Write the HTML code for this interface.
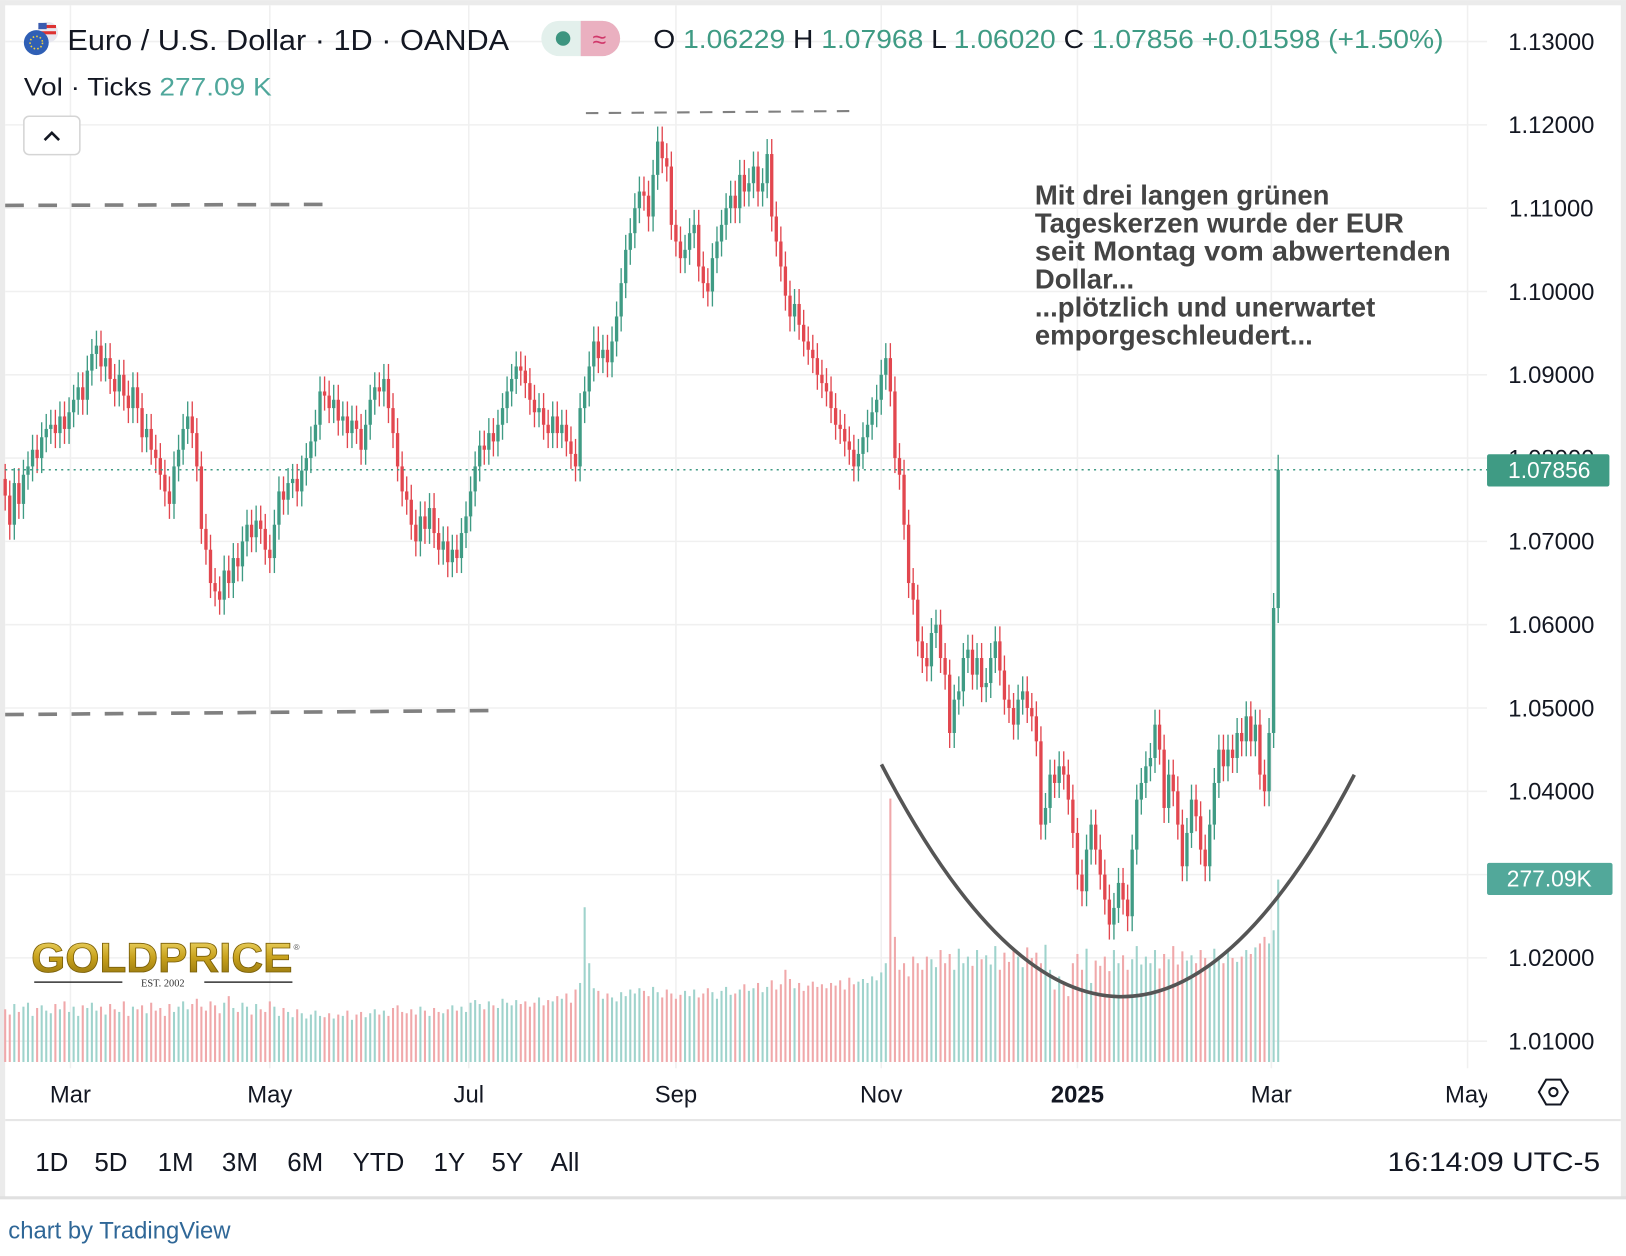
<!DOCTYPE html>
<html><head><meta charset="utf-8"><style>
html,body{margin:0;padding:0;background:#fff;}
svg{display:block;font-family:"Liberation Sans",sans-serif;}
</style></head><body>
<svg id="chart" width="1626" height="1256" viewBox="0 0 1568 1211" xmlns="http://www.w3.org/2000/svg">
<defs>
<linearGradient id="gold" x1="0" y1="0" x2="0" y2="1"><stop offset="0" stop-color="#f7e27a"/><stop offset="0.5" stop-color="#c9a21c"/><stop offset="1" stop-color="#8a6d0c"/></linearGradient>
</defs>
<rect x="0" y="0" width="1568" height="1211" fill="#fff"/>
<rect x="0" y="0" width="1568" height="5" fill="#ebebeb"/>
<rect x="0" y="0" width="5" height="1156" fill="#ebebeb"/>
<rect x="1563" y="0" width="5" height="1156" fill="#ebebeb"/>
<line x1="0" y1="1155" x2="1568" y2="1155" stroke="#e0e0e0" stroke-width="3"/>
<line x1="5" y1="1080" x2="1563" y2="1080" stroke="#e6e6e6" stroke-width="2"/>
<g id="grid"></g>
<g id="vol"></g>
<g id="candles"></g>
<g id="yaxis"></g>
<g id="xaxis"></g>

<line x1="5" y1="198" x2="320" y2="197" stroke="#808080" stroke-width="3.5" stroke-dasharray="18,14"/>
<line x1="5" y1="689" x2="480" y2="685" stroke="#808080" stroke-width="3.5" stroke-dasharray="18,14"/>
<line x1="565" y1="109" x2="820" y2="107" stroke="#808080" stroke-width="2" stroke-dasharray="12,10"/>
<path d="M850,737 Q1080,1180 1306,747" fill="none" stroke="#555" stroke-width="3.5"/>

<g font-weight="bold" font-size="26.5" fill="#444">
<text x="998" y="197">Mit drei langen grünen</text>
<text x="998" y="224">Tageskerzen wurde der EUR</text>
<text x="998" y="251" textLength="401" lengthAdjust="spacingAndGlyphs">seit Montag vom abwertenden</text>
<text x="998" y="278">Dollar...</text>
<text x="998" y="305">...plötzlich und unerwartet</text>
<text x="998" y="332">emporgeschleudert...</text>
</g>

<g>
<g>
<circle cx="46" cy="31" r="10" fill="#e8e8f0"/><rect x="38" y="24" width="16" height="3" fill="#d33"/><rect x="38" y="30" width="16" height="3" fill="#d33"/><rect x="37" y="22" width="8" height="6" fill="#3a5bb0"/>
<circle cx="35" cy="41" r="12" fill="#2f5fb5"/><circle cx="35" cy="41" r="6" fill="none" stroke="#f3d23a" stroke-width="1.5" stroke-dasharray="1.5,2"/>
</g>
<text x="65" y="48" font-size="28" fill="#131722" textLength="426" lengthAdjust="spacingAndGlyphs">Euro / U.S. Dollar · 1D · OANDA</text>
<g>
<rect x="522" y="20" width="76" height="34" rx="17" fill="#e3f0ec"/>
<path d="M560,20 h21 a17,17 0 0 1 0,34 h-21 z" fill="#eab0c0"/>
<circle cx="543" cy="37" r="7" fill="#3d9580"/>
<text x="578" y="46" font-size="24" fill="#d0386a" text-anchor="middle">≈</text>
</g>
<text x="630" y="46" font-size="25" fill="#131722" textLength="762" lengthAdjust="spacingAndGlyphs">O <tspan fill="#3f9b84">1.06229</tspan>  H <tspan fill="#3f9b84">1.07968</tspan>  L <tspan fill="#3f9b84">1.06020</tspan>  C <tspan fill="#3f9b84">1.07856</tspan>  <tspan fill="#3f9b84">+0.01598 (+1.50%)</tspan></text>
<text x="23" y="92" font-size="24" fill="#131722" textLength="239" lengthAdjust="spacingAndGlyphs">Vol · Ticks   <tspan fill="#4fa79b">277.09 K</tspan></text>
<g>
<rect x="23" y="112" width="54" height="37" rx="5" fill="#fff" stroke="#d5d5d5" stroke-width="1.5"/>
<path d="M43,135 l7,-7 l7,7" fill="none" stroke="#131722" stroke-width="2.5"/>
</g>
</g>

<g>
<text x="30" y="937" font-size="40" font-weight="bold" fill="url(#gold)" stroke="#7a5f08" stroke-width="0.8" textLength="252" lengthAdjust="spacingAndGlyphs">GOLDPRICE</text>
<text x="283" y="916" font-size="8" fill="#555">®</text>
<line x1="33" y1="947" x2="118" y2="947" stroke="#333" stroke-width="1.5"/>
<text x="157" y="951" font-size="10" fill="#333" text-anchor="middle" font-family="Liberation Serif,serif">EST. 2002</text>
<line x1="197" y1="947" x2="282" y2="947" stroke="#333" stroke-width="1.5"/>
</g>

<g>
<rect x="1434" y="438" width="118" height="31" rx="2" fill="#3f9b84"/>
<text x="1494" y="461" font-size="22" fill="#fff" text-anchor="middle">1.07856</text>
</g>
<g>
<rect x="1434" y="832" width="121" height="31" rx="2" fill="#52a89a"/>
<text x="1494" y="855" font-size="22" fill="#fff" text-anchor="middle">277.09K</text>
</g>

<g>
<path d="M1491,1041 h14 l7,12 l-7,12 h-14 l-7,-12 z" fill="none" stroke="#131722" stroke-width="2"/>
<circle cx="1498" cy="1053" r="4" fill="none" stroke="#131722" stroke-width="2"/>
</g>

<g font-size="25" fill="#131722">
<text x="34" y="1129">1D</text>
<text x="91" y="1129">5D</text>
<text x="152" y="1129">1M</text>
<text x="214" y="1129">3M</text>
<text x="277" y="1129">6M</text>
<text x="340" y="1129">YTD</text>
<text x="418" y="1129">1Y</text>
<text x="474" y="1129">5Y</text>
<text x="531" y="1129">All</text>
</g>
<text x="1543" y="1129" font-size="26" fill="#131722" text-anchor="end" textLength="205" lengthAdjust="spacingAndGlyphs">16:14:09 UTC-5</text>
<text x="8" y="1194" font-size="23" fill="#2f6797">chart by TradingView</text>
</svg>
<script>
const firstOpen = 1.0775;
const closes = [
1.0755,1.0720,1.0770,1.0745,1.0780,1.0790,1.0810,1.0800,1.0825,1.0835,
1.0840,1.0830,1.0850,1.0835,1.0855,1.0870,1.0885,1.0870,1.0905,1.0925,
1.0935,1.0910,1.0920,1.0895,1.0880,1.0900,1.0875,1.0860,1.0885,1.0860,
1.0825,1.0835,1.0810,1.0800,1.0780,1.0760,1.0745,1.0790,1.0810,1.0835,
1.0850,1.0830,1.0790,1.0715,1.0690,1.0650,1.0640,1.0630,1.0665,1.0650,
1.0680,1.0670,1.0700,1.0720,1.0705,1.0725,1.0715,1.0690,1.0680,1.0720,
1.0760,1.0750,1.0770,1.0775,1.0760,1.0785,1.0800,1.0820,1.0840,1.0880,
1.0875,1.0860,1.0870,1.0845,1.0850,1.0830,1.0845,1.0835,1.0810,1.0840,
1.0870,1.0885,1.0880,1.0895,1.0860,1.0830,1.0790,1.0760,1.0750,1.0720,
1.0700,1.0730,1.0715,1.0740,1.0710,1.0690,1.0700,1.0675,1.0690,1.0680,
1.0710,1.0730,1.0760,1.0790,1.0815,1.0810,1.0830,1.0820,1.0840,1.0860,
1.0880,1.0895,1.0910,1.0905,1.0890,1.0870,1.0855,1.0860,1.0840,1.0830,
1.0850,1.0830,1.0840,1.0820,1.0805,1.0790,1.0860,1.0880,1.0910,1.0940,
1.0920,1.0930,1.0915,1.0940,1.0970,1.1010,1.1050,1.1070,1.1100,1.1120,
1.1115,1.1090,1.1140,1.1180,1.1160,1.1150,1.1080,1.1060,1.1040,1.1050,
1.1070,1.1080,1.1030,1.1010,1.1000,1.1040,1.1060,1.1080,1.1100,1.1115,
1.1100,1.1140,1.1120,1.1130,1.1150,1.1120,1.1130,1.1165,1.1090,1.1060,
1.1030,1.0995,1.0970,1.0985,1.0960,1.0940,1.0930,1.0920,1.0900,1.0890,
1.0880,1.0860,1.0840,1.0835,1.0820,1.0810,1.0790,1.0805,1.0825,1.0840,
1.0855,1.0870,1.0900,1.0920,1.0880,1.0800,1.0780,1.0720,1.0650,1.0630,
1.0580,1.0560,1.0550,1.0590,1.0600,1.0560,1.0540,1.0470,1.0510,1.0520,
1.0560,1.0570,1.0540,1.0560,1.0525,1.0530,1.0560,1.0580,1.0545,1.0510,
1.0500,1.0480,1.0510,1.0520,1.0500,1.0490,1.0460,1.0360,1.0380,1.0420,
1.0410,1.0430,1.0420,1.0390,1.0350,1.0300,1.0280,1.0330,1.0360,1.0330,
1.0300,1.0270,1.0240,1.0260,1.0290,1.0270,1.0250,1.0330,1.0390,1.0410,
1.0430,1.0440,1.0480,1.0450,1.0380,1.0420,1.0400,1.0360,1.0310,1.0350,
1.0390,1.0370,1.0330,1.0310,1.0360,1.0410,1.0450,1.0430,1.0450,1.0440,
1.0470,1.0460,1.0490,1.0460,1.0480,1.0420,1.0400,1.0470,1.0620,1.0786];
const volumes = [
80,72,88,76,84,90,70,82,86,78, 74,88,80,92,76,84,70,86,82,90,
78,84,72,88,80,76,92,70,84,80, 86,74,90,78,82,70,88,76,84,92,
80,88,96,84,78,92,86,74,90,100, 82,76,90,84,72,88,80,76,92,84,
70,82,76,68,80,74,66,72,78,70, 68,74,66,72,70,78,64,72,76,68,
74,80,72,78,70,82,86,76,74,80, 72,84,78,70,82,76,74,80,86,78,
84,76,90,94,88,80,92,86,82,96, 90,86,94,88,92,84,90,98,86,94,
92,100,96,104,90,110,120,235,150,112, 108,96,104,98,92,106,100,110,104,112,
108,100,114,106,98,110,104,96,102,108, 100,110,98,104,112,106,96,108,114,102,
104,110,118,108,112,120,106,114,124,110, 118,140,126,112,120,108,116,122,114,118,
112,120,116,124,110,128,118,122,126,120, 130,124,136,150,400,190,140,150,130,160,
150,140,160,156,144,170,150,164,140,172, 150,160,146,170,156,162,148,176,140,166,
152,170,160,144,174,158,166,150,178,140, 110,130,120,100,150,164,140,172,120,154,
146,160,138,170,150,162,140,156,176,148, 160,150,170,142,164,156,176,148,168,154,
162,150,170,158,146,172,160,150,168,158, 152,160,170,164,174,180,190,180,200,277];
const priceTicks = [1.13,1.12,1.11,1.10,1.09,1.08,1.07,1.06,1.05,1.04,1.03,1.02,1.01];
const monthLabels = ["Mar","May","Jul","Sep","Nov","2025","Mar","May"];
const monthBarIdx = [14.3,58,101.6,147,192,235,277.5,320.5];

const NS="http://www.w3.org/2000/svg";
const X0=5, STEP=4.4;
function xAt(i){return X0+i*STEP;}
function yP(p){return 40+(1.13-p)*8033;}
function yV(v){return 1024-v*0.635;}
function mk(tag,attrs,parent){const e=document.createElementNS(NS,tag);for(const k in attrs)e.setAttribute(k,attrs[k]);parent.appendChild(e);return e;}
const G=document.getElementById('grid'),C=document.getElementById('candles'),V=document.getElementById('vol'),YA=document.getElementById('yaxis'),XA=document.getElementById('xaxis');

priceTicks.forEach(p=>{
  const l=mk('line',{x1:5,x2:1434,y1:yP(p),y2:yP(p),stroke:'#f0f0f0','stroke-width':1.5},G);
  
  
  const t=mk('text',{x:1496,y:yP(p)+8,'font-size':23,fill:'#131722','text-anchor':'middle'},YA);
  t.textContent=p.toFixed(5);
  
  
});
monthLabels.forEach((m,k)=>{
  const x=xAt(monthBarIdx[k]);
  if(x<1430){
    const l=mk('line',{x1:x,x2:x,y1:5,y2:1030,stroke:'#f0f0f0','stroke-width':1.5},G);
    
    
  }
  const t=mk('text',{x:x,y:1063,'font-size':23,fill:'#131722','text-anchor':'middle','font-weight':m==='2025'?'bold':'normal'},XA);
  t.textContent=m;
  
  
});
mk('rect',{x:1434,y:1035,width:50,height:40,fill:'#fff'},XA);

const opens=closes.map((c,i)=>i===0?firstOpen:closes[i-1]);
closes.forEach((c,i)=>{
  const o=opens[i], up=c>=o, x=xAt(i);
  const col=up?'#3f9b84':'#e2474f';
  const vc=up?'#9fd3cc':'#f0a8aa';
  const vb=mk('rect',{x:x-1,y:yV(volumes[i]),width:2,height:1024-yV(volumes[i]),fill:vc},V);
  
  
  const hi=Math.max(o,c)+0.0018, lo=Math.min(o,c)-0.0018;
  const w=mk('line',{x1:x,x2:x,y1:yP(hi),y2:yP(lo),stroke:col,'stroke-width':1.3},C);
  
  
  const top=yP(Math.max(o,c)), h=Math.max(1.5,Math.abs(yP(o)-yP(c)));
  const b=mk('rect',{x:x-1.6,y:top,width:3.2,height:h,fill:col},C);
  
  
});
const last=closes[closes.length-1];
const pl=mk('line',{x1:5,x2:1434,y1:yP(last),y2:yP(last),stroke:'#3f9b84','stroke-width':1.5,'stroke-dasharray':'2,4'},C);


</script>
</body></html>
